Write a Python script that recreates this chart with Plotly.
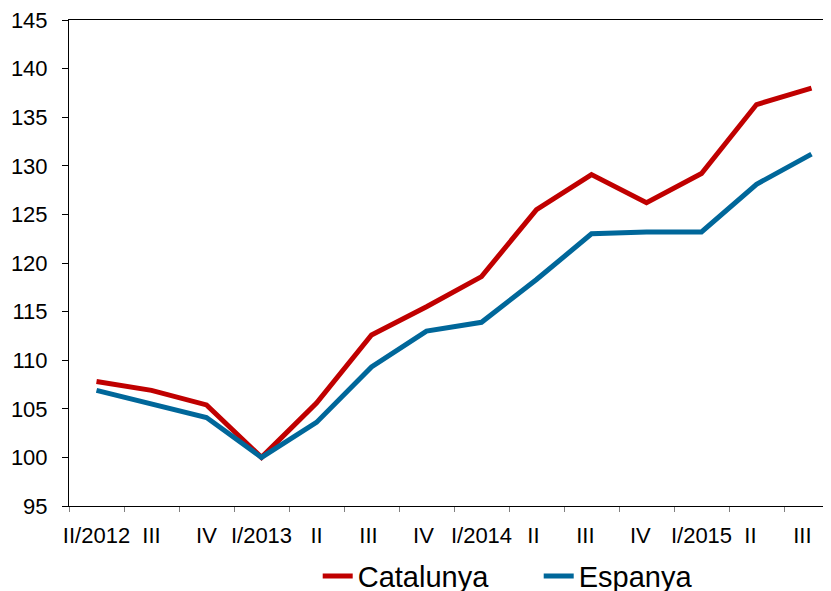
import plotly.graph_objects as go

quarters = ["II/2012", "III", "IV", "I/2013", "II", "III ", "IV ", "I/2014", "II ", "III  ",
            "IV  ", "I/2015", "II  ", "III   "]
catalunya = [107.8, 106.9, 105.4, 100.0, 105.6, 112.6, 115.5, 118.6, 125.5, 129.1,
             126.2, 129.2, 136.3, 138.0]
espanya = [106.9, 105.5, 104.1, 100.0, 103.6, 109.3, 113.0, 113.9, 118.3, 123.0,
           123.2, 123.2, 128.1, 131.2]

fig = go.Figure()
fig.add_trace(go.Scatter(x=quarters, y=catalunya, mode="lines", name="Catalunya",
                         line=dict(color="#C00000", width=5)))
fig.add_trace(go.Scatter(x=quarters, y=espanya, mode="lines", name="Espanya",
                         line=dict(color="#00679A", width=5)))

font = "Liberation Sans, Arial, sans-serif"
fig.update_layout(
    width=831, height=591,
    margin=dict(l=61, r=0, t=12, b=93, autoexpand=False),
    paper_bgcolor="white", plot_bgcolor="white",
    font=dict(family=font, color="black"),
    showlegend=True,
    legend=dict(orientation="h", x=0.323, xanchor="left", y=-0.1445, yanchor="middle",
                font=dict(size=29, family=font), entrywidth=176,
                bgcolor="rgba(0,0,0,0)"),
    xaxis=dict(type="category", range=[-0.5, 13.5], tickson="boundaries",
               ticks="outside", ticklen=5, tickcolor="#808080", tickwidth=1,
               showline=True, linecolor="black", linewidth=1, mirror=True,
               showgrid=False, tickfont=dict(size=22), tickangle=0,
               ticklabelstandoff=10, automargin=False, ticklabeloverflow="allow"),
    yaxis=dict(range=[95, 145], dtick=5, ticks="outside", ticklen=6,
               tickcolor="black", showline=True, linecolor="black", linewidth=1,
               showgrid=False, zeroline=False, tickfont=dict(size=22),
               ticklabelstandoff=10, automargin=False, ticklabeloverflow="allow"),
)
fig.write_html("out.html")
